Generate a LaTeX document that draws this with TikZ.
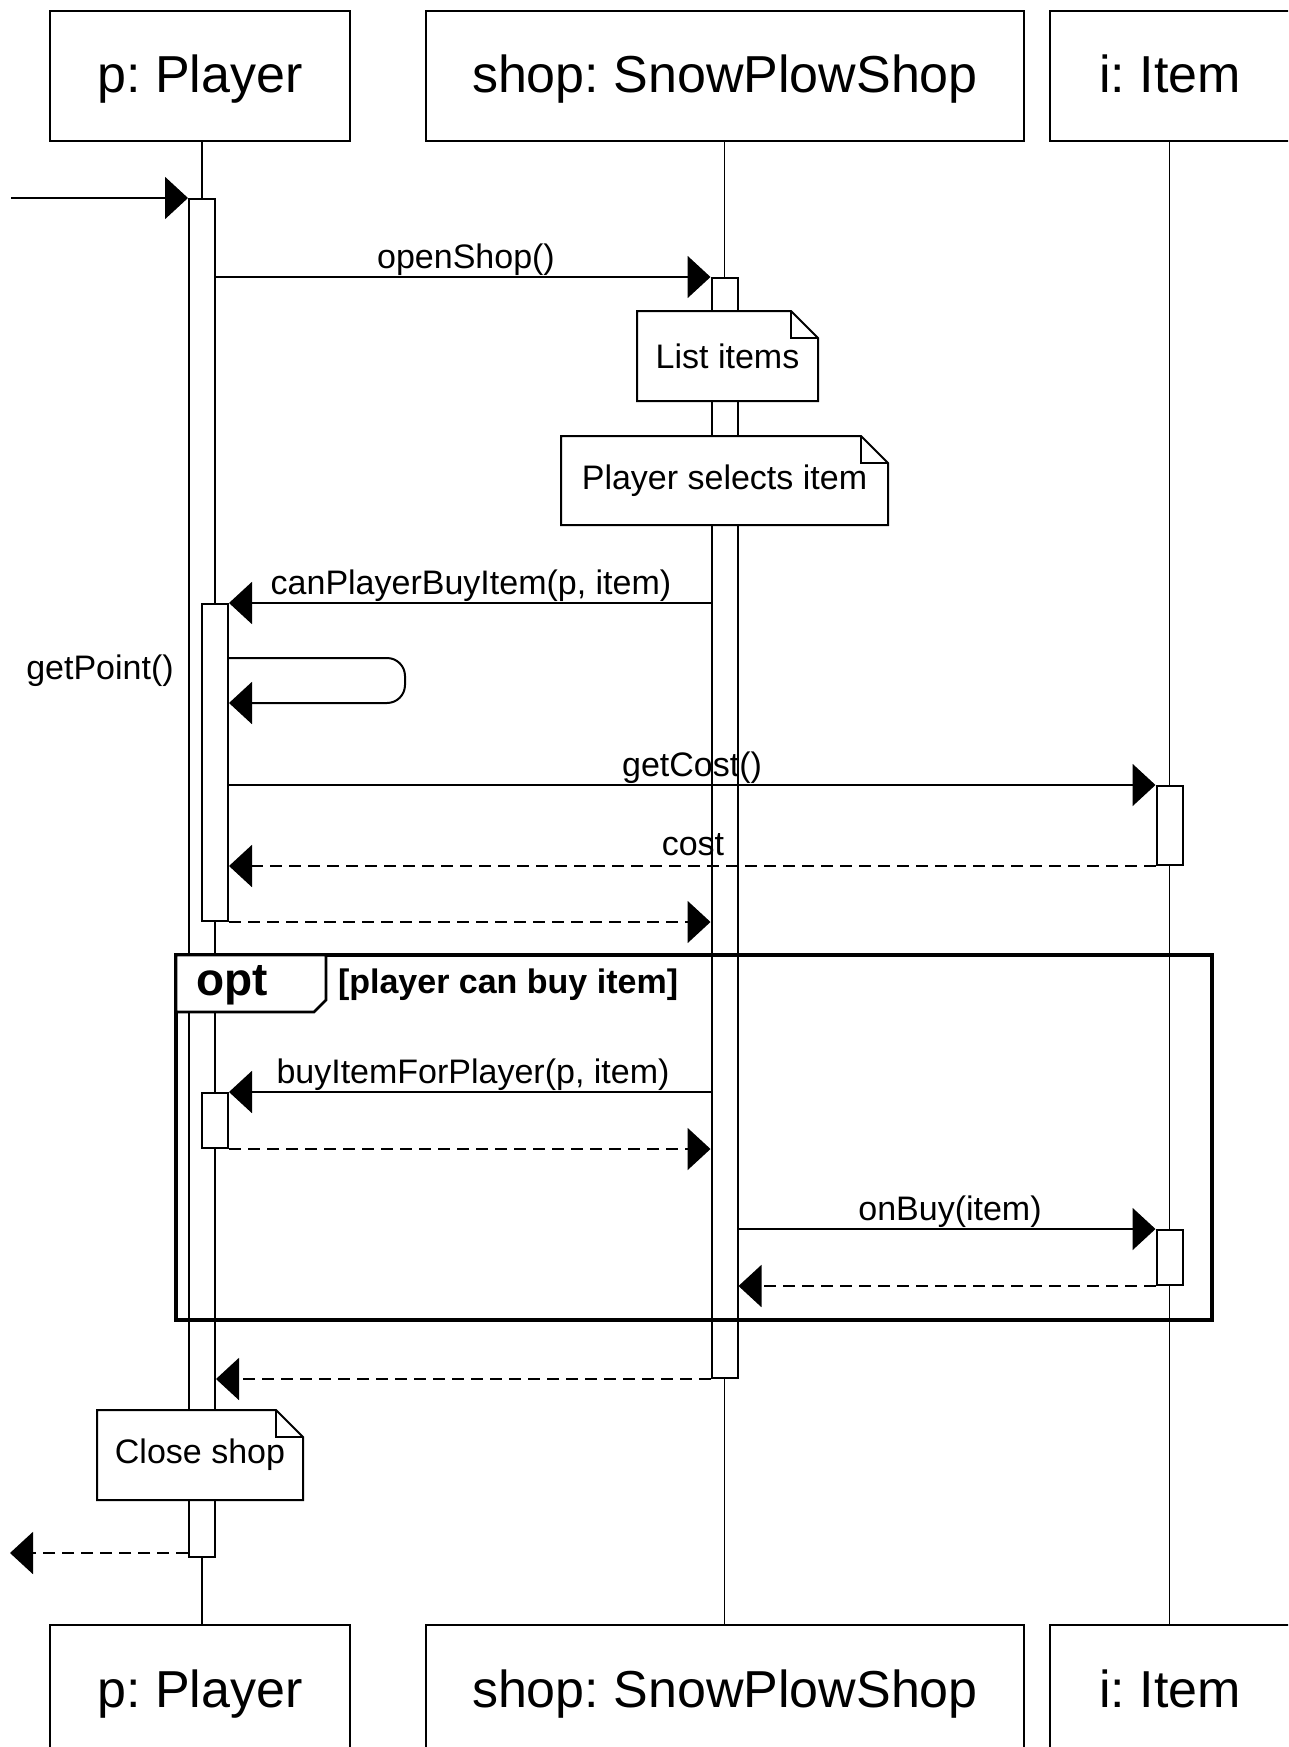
\documentclass[tikz,border=0pt]{standalone}
\usepackage{fontspec}
\setmainfont{Liberation Sans}
\usetikzlibrary{arrows.meta}
\frenchspacing
\begin{document}
\begin{tikzpicture}[x=1pt,y=-1pt,line width=2pt,
  objbox/.style={draw,fill=white,line width=2.2pt,minimum height=130pt,inner sep=0pt,text height=38pt,text depth=4pt,font=\fontsize{52}{60}\selectfont},
  actbox/.style={draw,fill=white,minimum width=26pt,inner sep=0pt,anchor=north,line width=2pt},
  lifeline/.style={line width=1.7pt},
  msg/.style={-{Triangle[length=23pt,width=42pt]}},
  retmsg/.style={msg,dash pattern=on 12pt off 7pt},
  lbl/.style={font=\fontsize{34}{40}\selectfont,anchor=base,inner sep=0pt},
  notebox/.style={fill=white,inner sep=0pt,font=\fontsize{34}{40}\selectfont},
  notecorner/.style={draw,fill=white,line width=2pt}
]
\clip (0,0) rectangle (1288,1747);
\fill[white] (0,0) rectangle (1288,1747);

% object boxes
\node[objbox,minimum width=300pt] (pT) at (200,76) {p: Player};
\node[objbox,minimum width=598pt] (sT) at (725,76) {shop: SnowPlowShop};
\node[objbox,minimum width=240pt] (iT) at (1170,76) {i: Item};
\node[objbox,minimum width=300pt] (pBt) at (200,1690) {p: Player};
\node[objbox,minimum width=598pt] (sBt) at (725,1690) {shop: SnowPlowShop};
\node[objbox,minimum width=240pt] (iBt) at (1170,1690) {i: Item};

% lifelines
\draw[lifeline] (202,141) coordinate (pl1) -- (202,1625) coordinate (pl2);
\draw[lifeline] (724.5,141) coordinate (sl1) -- (724.5,1625) coordinate (sl2);
\draw[lifeline] (1169.5,141) coordinate (il1) -- (1169.5,1625) coordinate (il2);

% activations
\node[actbox,minimum height=1358pt] (pA) at (202,198) {};
\node[actbox,minimum height=1100pt] (sA) at (724.5,277) {};
\node[actbox,minimum height=317pt] (pB) at (215,603) {};
\node[actbox,minimum height=79pt] (iA) at (1169.5,785) {};
\node[actbox,minimum height=55pt] (pC) at (215,1092) {};
\node[actbox,minimum height=55pt] (iB) at (1169.5,1229) {};

% notes
\node[notebox,minimum width=179pt,minimum height=88pt] (n1) at (727.5,356) {};
\draw[notecorner] (n1.north west) -- ([xshift=-27pt]n1.north east) -- ([yshift=-27pt]n1.north east) -- (n1.south east) -- (n1.south west) -- cycle;
\draw ([xshift=-27pt]n1.north east) -- ([xshift=-27pt,yshift=-27pt]n1.north east) -- ([yshift=-27pt]n1.north east);
\node[notebox,fill=none] at (n1) {List items};

\node[notebox,minimum width=325pt,minimum height=87pt] (n2) at (724.5,480.5) {};
\draw[notecorner] (n2.north west) -- ([xshift=-27pt]n2.north east) -- ([yshift=-27pt]n2.north east) -- (n2.south east) -- (n2.south west) -- cycle;
\draw ([xshift=-27pt]n2.north east) -- ([xshift=-27pt,yshift=-27pt]n2.north east) -- ([yshift=-27pt]n2.north east);
\node[notebox,fill=none] at (n2) {Player selects item};

\node[notebox,minimum width=204pt,minimum height=88pt] (n3) at (200,1455) {};
\draw[notecorner] (n3.north west) -- ([xshift=-27pt]n3.north east) -- ([yshift=-27pt]n3.north east) -- (n3.south east) -- (n3.south west) -- cycle;
\draw ([xshift=-27pt]n3.north east) -- ([xshift=-27pt,yshift=-27pt]n3.north east) -- ([yshift=-27pt]n3.north east);
\node[notebox,fill=none] at (n3) {Close shop};

% messages
\coordinate (entry) at (11,198);
\draw[msg] (entry) -- (pA.north west);

\draw[msg] (pA.east |- sA.north) -- (sA.north west);
\node[lbl] (l1) at (466,268) {openShop()};

\draw[msg] (sA.west |- pB.north) -- (pB.north east);
\node[lbl] (l2) at (471,594) {canPlayerBuyItem(p, item)};

\coordinate (self1) at (pB.east |- 0,658);
\coordinate (self2) at (405,658);
\coordinate (self3) at (405,703);
\coordinate (self4) at (pB.east |- 0,703);
\draw[msg,rounded corners=18pt] (self1) -- (self2) -- (self3) -- (self4);
\node[lbl] (l3) at (100,679) {getPoint()};

\draw[msg] (pB.east |- iA.north) -- (iA.north west);
\node[lbl] (l4) at (692,776) {getCost()};

\draw[retmsg] (iA.south west) -- (pB.east |- iA.south);
\node[lbl] (l5) at (693,855) {cost};

\draw[retmsg] (pB.south east) -- (sA.west |- pB.south);

% opt frame
\draw[line width=3.4pt] (176,955) rectangle (1212,1320);
\draw[line width=2.6pt,fill=white] (176,955) -- (326,955) -- (326,1000) -- (314,1012) -- (176,1012) -- cycle;
\node[font=\bfseries\fontsize{46}{52}\selectfont,anchor=base,inner sep=0pt] (opt) at (232,995) {opt};
\node[font=\bfseries\fontsize{34}{40}\selectfont,anchor=base west,inner sep=0pt] (guard) at (337,993) {[player can buy item]};

\draw[msg] (sA.west |- pC.north) -- (pC.north east);
\node[lbl] (l6) at (473,1083) {buyItemForPlayer(p, item)};
\draw[retmsg] (pC.south east) -- (sA.west |- pC.south);

\draw[msg] (sA.east |- iB.north) -- (iB.north west);
\node[lbl] (l7) at (950,1220) {onBuy(item)};
\draw[retmsg] (iB.south west) -- (sA.east |- iB.south);

\draw[retmsg] (sA.south west) -- (pA.east |- sA.south);

\coordinate (exit) at (10,1553);
\draw[retmsg] (pA.west |- exit) -- (exit);
\end{tikzpicture}
\end{document}
